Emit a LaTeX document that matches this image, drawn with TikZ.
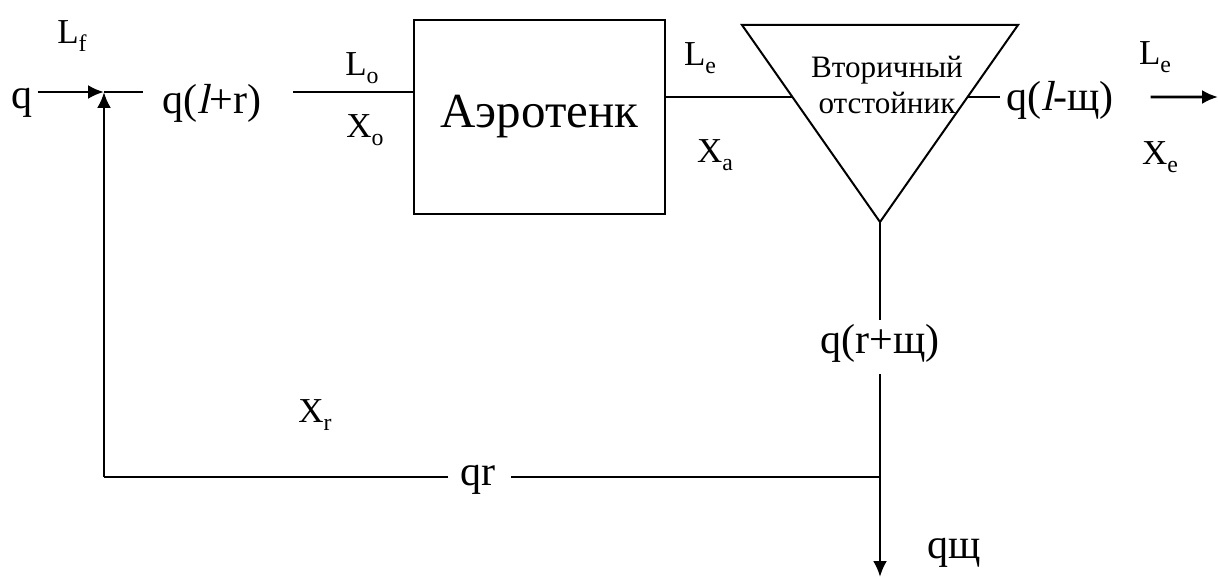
\documentclass[tikz,border=0pt]{standalone}
\usepackage{fontspec}
\setmainfont{Liberation Serif}
\newfontfamily\slnt{Liberation Serif}[FakeSlant=0.22]
\usetikzlibrary{positioning, arrows.meta, calc}
\newcommand{\lowidx}[1]{\raisebox{-0.22em}{\scalebox{0.68}{#1}}}

\begin{document}
\begin{tikzpicture}[x=1pt, y=-1pt,
      font=\fontsize{35}{40}\selectfont,
      flow/.style={line width=2.6pt},
      feed/.style={line width=1.5pt},
      unit/.style={draw, line width=2pt, inner sep=0pt},
      biglbl/.style={inner sep=0pt, scale=1.2},
      sublbl/.style={inner sep=0pt},
      >={Latex[length=16pt, width=14pt]}]
    \useasboundingbox (0,0) rectangle (1218,577);
    % labels of the flows
    \node[biglbl] (q) at (22,103) {q};
    \node[sublbl] (lf) at (72,36) {L\lowidx{f}};
    \node[biglbl] (qlr) at (212,103) {q({\slnt l}+r)};
    \node[sublbl] (lo) at (362,68) {L\lowidx{o}};
    \node[sublbl] (xo) at (365,130) {X\lowidx{o}};
    \node[sublbl] (le) at (700,58) {L\lowidx{e}};
    \node[sublbl] (xa) at (715,155) {X\lowidx{a}};
    \node[biglbl] (qls) at (1060,100) {q({\slnt l}-щ)};
    \node[sublbl] (leout) at (1155,57) {L\lowidx{e}};
    \node[sublbl] (xe) at (1160,157) {X\lowidx{e}};
    \node[biglbl] (qrs) at (880,343) {q(r+щ)};
    \node[sublbl] (xr) at (315,415) {X\lowidx{r}};
    \node[biglbl] (qr) at (478,480) {qr};
    \node[biglbl] (qs) at (954,553) {qщ};
    % aeration tank and clarifier
    \node[unit, minimum width=251pt, minimum height=194pt] (aero)
      at (539.5,117) {\scalebox{1.4}{Аэротенк}};
    \coordinate (tl) at (742,25);
    \coordinate (tr) at (1018,25);
    \coordinate (tb) at (880,222);
    \draw[line width=2pt] (tl) -- (tr) -- (tb) -- cycle;
    \node[align=center, inner sep=0pt, scale=0.89]
      (clar) at (887,85) {Вторичный\\отстойник};
    \coordinate (sin) at ($(tl)!0.3655!(tb)$);
    \coordinate (sout) at ($(tr)!0.3655!(tb)$);
    % junctions
    \coordinate (jin) at (104,92);
    \coordinate (jo) at (326,92);
    \coordinate (jr) at (880,477);
    \coordinate (jl) at (104,477);
    \coordinate (out) at (1218,97);
    \coordinate (bot) at (880,577);
    % connectors
    \draw[flow, ->, shorten <=5pt] (q.east |- jin) -- (jin);
    \draw[flow, shorten >=20pt] (jin) -- (jin -| qlr.west);
    \draw[flow, shorten <=32pt] (qlr.east |- jin) -- (jo);
    \draw[feed] (jo) -- (aero.west |- jo);
    \draw[feed] (aero.east |- sin) -- (sin);
    \draw[flow, shorten >=6pt] (sout) -- (qls.west |- sout);
    \draw[flow, ->, shorten <=37pt] (qls.east |- sout) -- (out);
    \draw[flow, shorten >=4pt] (tb) -- (qrs.north);
    \draw[flow, shorten <=12pt] (qrs.south) -- (jr);
    \draw[flow, ->] (jr) -- (bot);
    \draw[flow, shorten >=15pt] (jr) -- (qr.east |- jr);
    \draw[flow, shorten <=12pt] (qr.west |- jr) -- (jl);
    \draw[flow, ->] (jl) -- (jin);
  \end{tikzpicture}
\end{document}
